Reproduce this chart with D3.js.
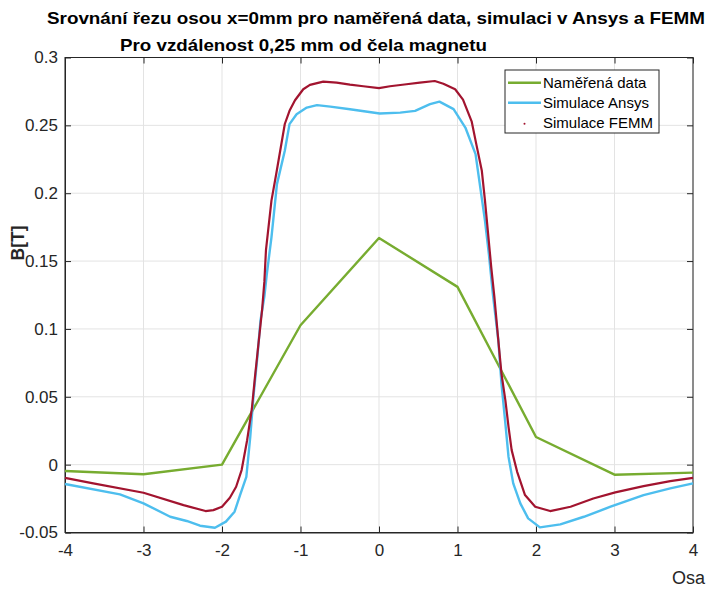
<!DOCTYPE html>
<html><head><meta charset="utf-8">
<script src="https://cdn.jsdelivr.net/npm/d3@7"></script>
<style>body{margin:0;background:#fff}svg{display:block;font-family:"Liberation Sans",Arial,sans-serif}</style>
</head><body>
<script>
const titleLines = ["Srovnání řezu osou x=0mm pro naměřená data, simulaci v Ansys a FEMM", "Pro vzdálenost 0,25 mm od čela magnetu"];
const xLabel = "Osa", yLabel = "B[T]";
const seriesNames = ["Naměřená data", "Simulace Ansys", "Simulace FEMM"];
const xTicks = [-4,-3,-2,-1,0,1,2,3,4];
const yTicks = [-0.05,0,0.05,0.1,0.15,0.2,0.25,0.3];

const measX = [-4,-3,-2,-1,0,1,2,3,4];
const measY = [-0.0047,-0.0071,0,0.1027,0.167,0.131,0.0204,-0.0074,-0.0059];

const ansysX = [-4,-3.3,-3,-2.66,-2.45,-2.28,-2.09,-1.95,-1.84,-1.77,-1.69,-1.64,-1.6,-1.55,-1.51,-1.46,-1.43,-1.37,-1.30,-1.20,-1.14,-1.05,-0.92,-0.79,-0.62,-0.37,0.01,0.27,0.46,0.65,0.77,0.95,1.10,1.23,1.29,1.35,1.40,1.45,1.47,1.52,1.56,1.61,1.65,1.71,1.80,1.90,2.05,2.31,2.61,2.95,3.37,3.71,4];
const ansysY = [-0.0143,-0.0219,-0.0285,-0.0384,-0.0415,-0.045,-0.0465,-0.042,-0.0347,-0.0224,-0.009,0.0204,0.05,0.079,0.106,0.124,0.14,0.1675,0.2067,0.2313,0.2509,0.2582,0.2631,0.2649,0.2638,0.2619,0.2587,0.2594,0.2607,0.2656,0.2675,0.262,0.2484,0.2288,0.2043,0.1798,0.155,0.126,0.116,0.0915,0.0597,0.0303,0.0057,-0.0138,-0.0285,-0.0396,-0.0462,-0.044,-0.0384,-0.031,-0.0224,-0.0175,-0.0138];

const femmX = [-4,-3.64,-3,-2.49,-2.21,-2.11,-2,-1.9,-1.82,-1.75,-1.68,-1.62,-1.58,-1.54,-1.49,-1.46,-1.44,-1.37,-1.31,-1.20,-1.14,-1.07,-0.965,-0.88,-0.71,-0.54,-0.37,-0.2,0,0.14,0.35,0.52,0.71,0.82,0.97,1.07,1.18,1.24,1.31,1.35,1.39,1.43,1.47,1.52,1.56,1.61,1.65,1.69,1.76,1.86,1.99,2.18,2.44,2.73,3.01,3.37,3.71,4];
const femmY = [-0.0097,-0.0138,-0.0207,-0.0298,-0.0342,-0.0335,-0.031,-0.0244,-0.0163,-0.004,0.018,0.041,0.0646,0.0866,0.1136,0.135,0.158,0.1945,0.214,0.251,0.2607,0.2685,0.2766,0.2798,0.2822,0.2815,0.28,0.2788,0.2774,0.2788,0.2803,0.2815,0.2827,0.2807,0.2766,0.269,0.253,0.236,0.2165,0.1945,0.17,0.1454,0.1234,0.0915,0.067,0.0474,0.0278,0.0107,-0.0053,-0.0224,-0.031,-0.0342,-0.031,-0.0249,-0.0204,-0.0158,-0.0121,-0.0097];

const colors = ["#77AC30","#4DBEEE","#A2142F"];
const W = 709, H = 590;
const m = {left:65, right:16, top:57.5, bottom:57.5};
const svg = d3.select("body").append("svg").attr("width",W).attr("height",H);
const x = d3.scaleLinear().domain([-4,4]).range([m.left, W-m.right]);
const y = d3.scaleLinear().domain([-0.05,0.3]).range([H-m.bottom, m.top]);
const ink = "#262626";

// grid
svg.append("g").selectAll("line").data(xTicks).join("line")
  .attr("x1",d=>x(d)).attr("x2",d=>x(d)).attr("y1",m.top).attr("y2",H-m.bottom)
  .attr("stroke","#e3e3e3").attr("stroke-width",1);
svg.append("g").selectAll("line").data(yTicks).join("line")
  .attr("y1",d=>y(d)).attr("y2",d=>y(d)).attr("x1",m.left).attr("x2",W-m.right)
  .attr("stroke","#e3e3e3").attr("stroke-width",1);

// axes
const fmt = d => d===0 ? "0" : String(+d.toFixed(2));
const xb = svg.append("g").attr("transform",`translate(0,${H-m.bottom})`)
  .call(d3.axisBottom(x).tickValues(xTicks).tickFormat(fmt).tickSizeInner(-6).tickSizeOuter(0).tickPadding(11));
const xt = svg.append("g").attr("transform",`translate(0,${m.top})`)
  .call(d3.axisTop(x).tickValues(xTicks).tickFormat("").tickSizeInner(-6).tickSizeOuter(0));
const yl = svg.append("g").attr("transform",`translate(${m.left},0)`)
  .call(d3.axisLeft(y).tickValues(yTicks).tickFormat(fmt).tickSizeInner(-6).tickSizeOuter(0).tickPadding(7));
const yr = svg.append("g").attr("transform",`translate(${W-m.right},0)`)
  .call(d3.axisRight(y).tickValues(yTicks).tickFormat("").tickSizeInner(-6).tickSizeOuter(0));
[xb,xt,yl,yr].forEach(g=>{
  g.attr("font-size",null).attr("font-family",null);
  g.selectAll("path").attr("stroke",ink);
  g.selectAll("line").attr("stroke",ink);
  g.selectAll("text").attr("fill",ink).style("font-size","17px").style("font-family","'Liberation Sans',Arial,sans-serif");
});
xt.select(".domain").remove(); yr.select(".domain").remove();
svg.append("rect").attr("x",m.left).attr("y",m.top).attr("width",W-m.right-m.left).attr("height",H-m.top-m.bottom)
  .attr("fill","none").attr("stroke",ink).attr("stroke-width",1);

// lines
const line = d3.line().x(d=>x(d[0])).y(d=>y(d[1]));
const series = [d3.zip(measX,measY), d3.zip(ansysX,ansysY), d3.zip(femmX,femmY)];
series.forEach((s,i)=>{
  svg.append("path").datum(s).attr("d",line).attr("fill","none")
    .attr("stroke",colors[i]).attr("stroke-width", i===2 ? 2.2 : 2.4).attr("stroke-linejoin","round");
});

// titles
svg.append("text").attr("x",47).attr("y",24).attr("font-weight","bold").style("font-size","16.5px").attr("fill","#000")
  .text(titleLines[0]).attr("textLength",658).attr("lengthAdjust","spacingAndGlyphs");
svg.append("text").attr("x",120).attr("y",51).attr("font-weight","bold").style("font-size","16.5px").attr("fill","#000")
  .text(titleLines[1]).attr("textLength",367).attr("lengthAdjust","spacingAndGlyphs");
svg.append("text").attr("transform","translate(24,243) rotate(-90)").attr("text-anchor","middle")
  .attr("font-weight","bold").style("font-size","17.5px").attr("fill",ink).text(yLabel);
svg.append("text").attr("x",705).attr("y",584).attr("text-anchor","end").style("font-size","18px").attr("fill",ink).text(xLabel);

// legend
const lg = svg.append("g");
lg.append("rect").attr("x",505).attr("y",70).attr("width",154).attr("height",63).attr("fill","#fff").attr("stroke",ink).attr("stroke-width",1);
seriesNames.forEach((n,i)=>{
  const cy = 82.7 + i*20;
  if(i<2) lg.append("line").attr("x1",508).attr("x2",541).attr("y1",cy).attr("y2",cy).attr("stroke",colors[i]).attr("stroke-width",2.4);
  else lg.append("circle").attr("cx",524.5).attr("cy",cy+1).attr("r",1).attr("fill",colors[i]);
  lg.append("text").attr("x",543).attr("y",cy+5.5).style("font-size","15px").attr("fill","#000").text(n);
});
</script>
</body></html>
